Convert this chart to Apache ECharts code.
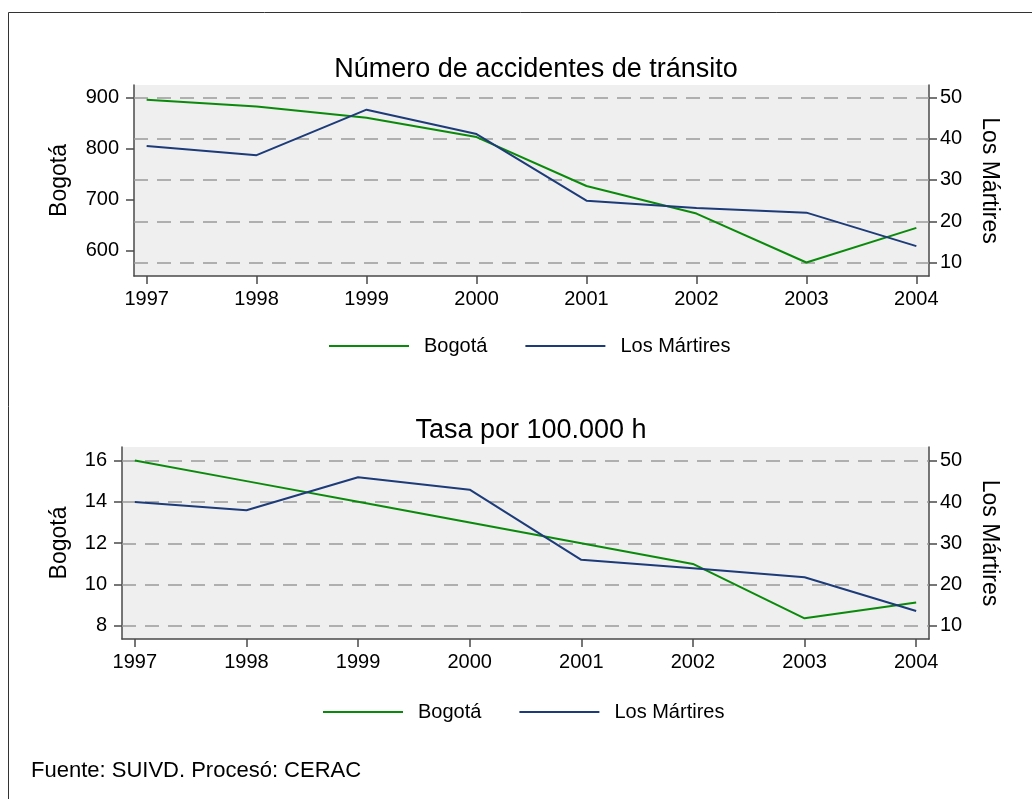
<!DOCTYPE html>
<html>
<head>
<meta charset="utf-8">
<script src="https://cdn.jsdelivr.net/npm/echarts@6/dist/echarts.min.js"></script>
<style>
  html, body { margin: 0; padding: 0; background: #fff; }
  #chart { width: 1032px; height: 799px; }
</style>
</head>
<body>
<div id="chart"></div>
<script>
// data
const years = [1997, 1998, 1999, 2000, 2001, 2002, 2003, 2004];
const accBogota = [895, 882, 860, 822, 726, 672, 576, 644];
const accMartires = [38.2, 36, 47, 41.1, 25, 23.2, 22.1, 14];
const tasaBogota = [16, 15, 14, 13, 12, 11, 8.37, 9.13];
const tasaMartires = [40, 38, 46, 43, 26, 24, 21.8, 13.6];

// tick labels
const yearTicks = [1997, 1998, 1999, 2000, 2001, 2002, 2003, 2004];
const accLeftTicks = [600, 700, 800, 900];
const tasaLeftTicks = [8, 10, 12, 14, 16];
const martiresTicks = [10, 20, 30, 40, 50];

const FONT = "Liberation Sans";
const GREEN = "#0a8a0a";
const NAVY = "#1c3b78";
const AXIS = "#4a4a4a";

const chart = echarts.init(document.getElementById("chart"));

const pairs = (vals) => years.map((y, i) => [y, vals[i]]);

function xAxis(gridIndex) {
  return {
    type: "value", gridIndex, min: 1996.885, max: 2004.115,
    axisLine: { show: true, lineStyle: { color: AXIS, width: 1.5 } },
    axisTick: { show: true, length: 8, customValues: yearTicks, lineStyle: { color: AXIS, width: 1.5 } },
    axisLabel: { customValues: yearTicks, formatter: (v) => String(v), color: "#000", fontSize: 20, fontFamily: FONT, margin: 13 },
    splitLine: { show: false },
  };
}

function yAxis(gridIndex, position, min, max, ticks, name, gap) {
  return {
    type: "value", gridIndex, position, min, max,
    name, nameLocation: "middle", nameGap: gap, nameRotate: position === "left" ? 90 : -90,
    nameTextStyle: { color: "#000", fontSize: 23, fontFamily: FONT },
    axisLine: { show: true, onZero: false, lineStyle: { color: AXIS, width: 1.5 } },
    axisTick: { show: true, length: 8, customValues: ticks, lineStyle: { color: AXIS, width: 1.5 } },
    axisLabel: { customValues: ticks, formatter: (v) => String(v), color: "#000", fontSize: 20, fontFamily: FONT,
      margin: position === "left" ? 15 : 11 },
    splitLine: { show: false },
  };
}

const gridLines = {
  silent: true, symbol: ["none", "none"], label: { show: false }, z: 1,
  lineStyle: { color: "#9a9a9a", type: [14, 9], width: 1.5 },
  emphasis: { disabled: true },
  data: martiresTicks.map((v) => ({ yAxis: v })),
};

function line(name, color, data, xi, yi, withGrid) {
  const s = {
    name, type: "line", xAxisIndex: xi, yAxisIndex: yi, data,
    symbol: "none", z: 3,
    lineStyle: { color, width: 2 }, itemStyle: { color },
    emphasis: { disabled: true },
  };
  if (withGrid) s.markLine = gridLines;
  return s;
}

function legend(top, left) {
  return {
    top, left, icon: "rect", itemWidth: 80, itemHeight: 2, itemGap: 38,
    selectedMode: false,
    data: ["Bogotá", "Los Mártires"],
    textStyle: { color: "#000", fontSize: 20, fontFamily: FONT, padding: [0, 0, 0, 10] },
  };
}

const option = {
  animation: false,
  textStyle: { fontFamily: FONT },
  title: [
    { text: "Número de accidentes de tránsito", left: 531, top: 51, textAlign: "center",
      textStyle: { fontSize: 27, fontWeight: "normal", color: "#000", fontFamily: FONT } },
    { text: "Tasa por 100.000 h", left: 526, top: 412, textAlign: "center",
      textStyle: { fontSize: 27, fontWeight: "normal", color: "#000", fontFamily: FONT } },
  ],
  legend: [legend(331, 324), legend(697, 318)],
  grid: [
    { left: 134, right: 103, top: 85, height: 191, show: true, backgroundColor: "#efefef", borderWidth: 0 },
    { left: 122, right: 103, top: 447, height: 192, show: true, backgroundColor: "#efefef", borderWidth: 0 },
  ],
  xAxis: [xAxis(0), xAxis(1)],
  yAxis: [
    yAxis(0, "left", 549.6, 924.1, accLeftTicks, "Bogotá", 63),
    yAxis(0, "right", 6.78, 52.97, martiresTicks, "Los Mártires", 49),
    yAxis(1, "left", 7.37, 16.65, tasaLeftTicks, "Bogotá", 51),
    yAxis(1, "right", 6.84, 53.33, martiresTicks, "Los Mártires", 49),
  ],
  series: [
    line("Bogotá", GREEN, pairs(accBogota), 0, 0, false),
    line("Los Mártires", NAVY, pairs(accMartires), 0, 1, true),
    line("Bogotá", GREEN, pairs(tasaBogota), 1, 2, false),
    line("Los Mártires", NAVY, pairs(tasaMartires), 1, 3, true),
  ],
  graphic: [
    { type: "rect", shape: { x: 8.5, y: 12.5, width: 1100, height: 900 }, silent: true,
      style: { fill: "none", stroke: "#333", lineWidth: 1 } },
    { type: "text", left: 31, top: 760, silent: true,
      style: { text: "Fuente: SUIVD. Procesó: CERAC", fontSize: 22, fontFamily: FONT, fill: "#000" } },
  ],
};

chart.setOption(option);
</script>
</body>
</html>
